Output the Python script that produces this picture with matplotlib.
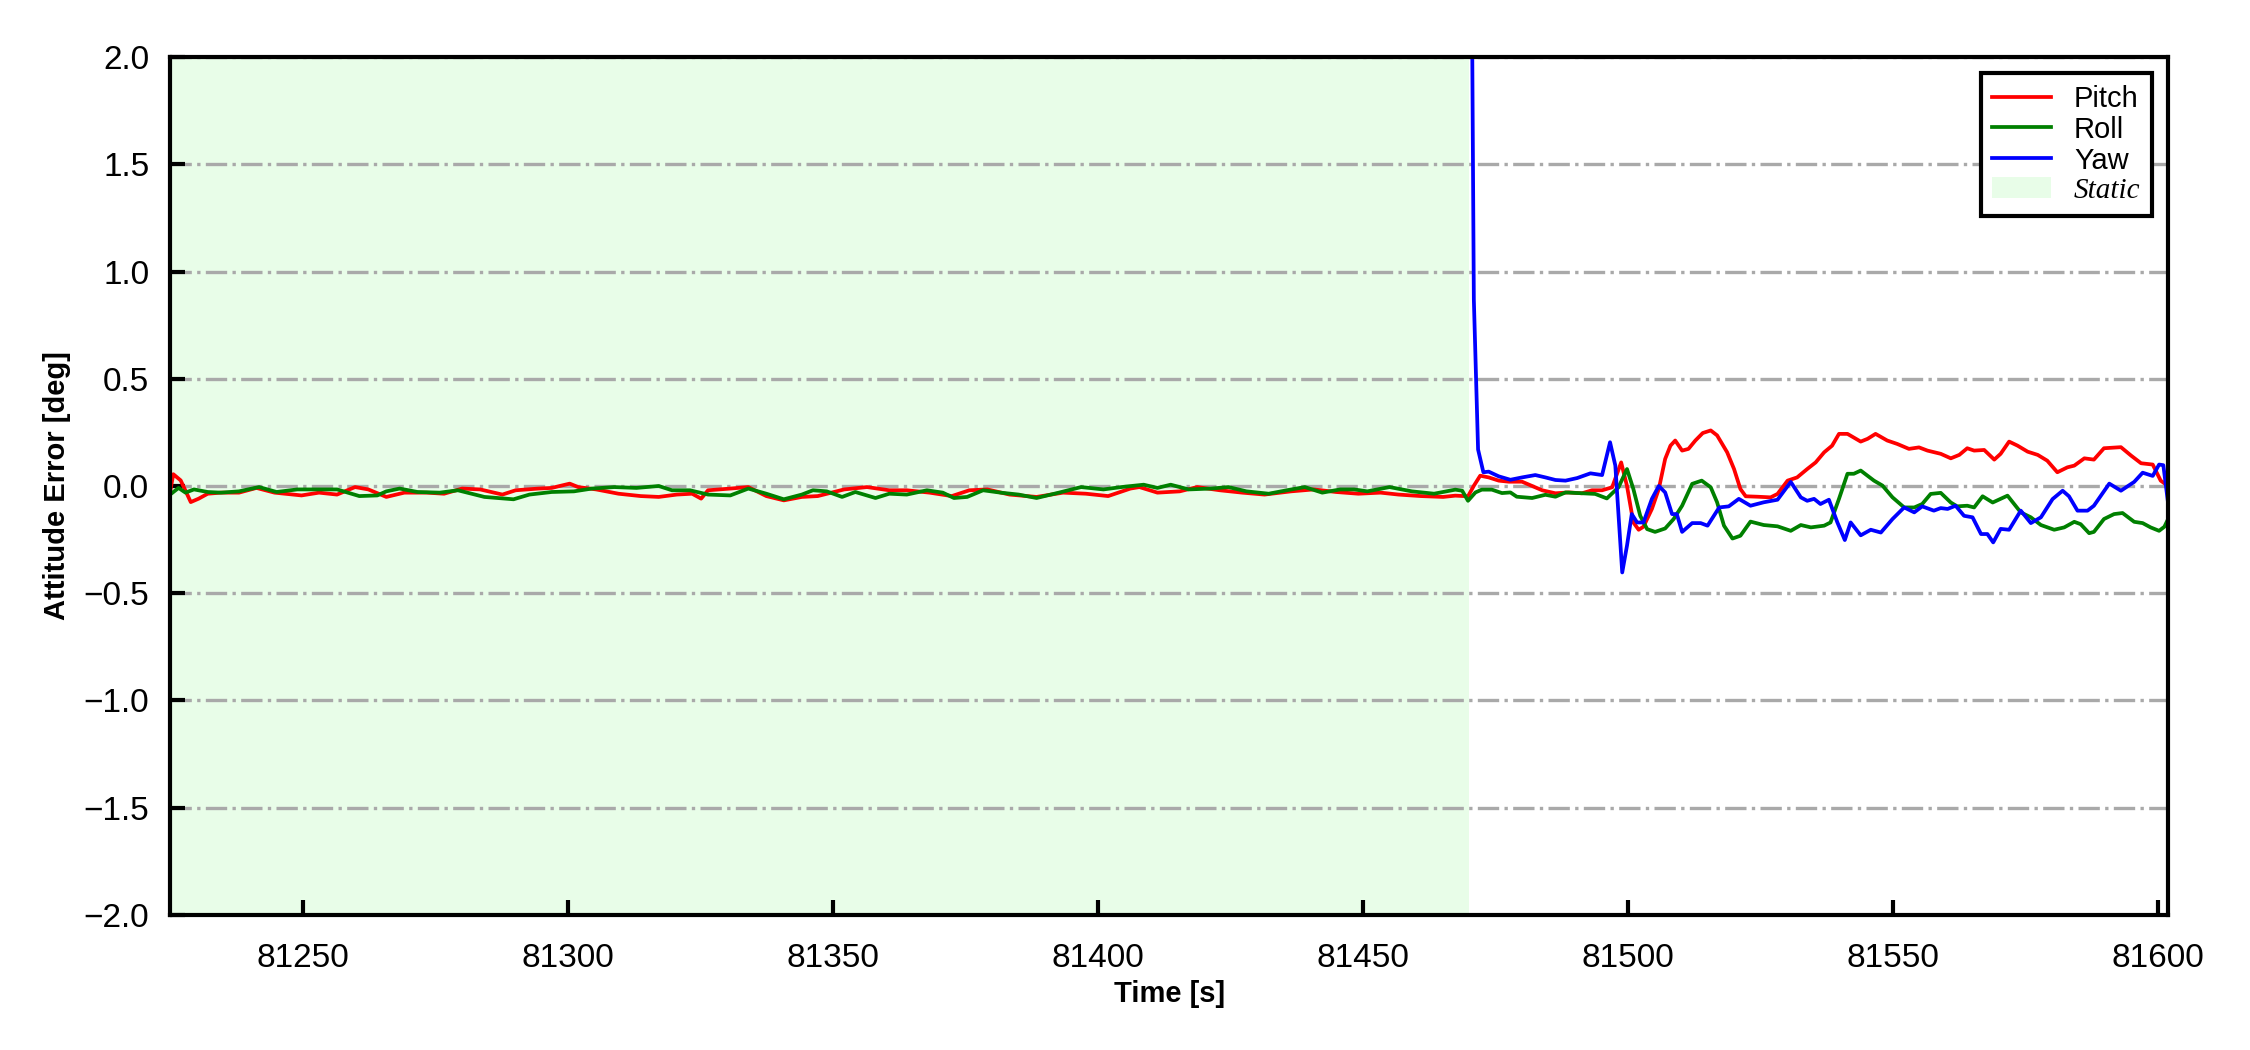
import numpy as np
import matplotlib
matplotlib.use("Agg")
import matplotlib.pyplot as plt
from matplotlib.patches import Patch

plt.rcParams['font.family'] = ['Liberation Sans', 'DejaVu Sans']

# time stamps [s] and attitude errors [deg]
pitch_t = [81225.0, 81225.6, 81227.0, 81228.9, 81230.4, 81232.1, 81234.6, 81238.0, 81241.3, 81244.7,
           81249.8, 81253.1, 81256.5, 81259.9, 81262.4, 81265.8, 81269.2, 81273.4, 81276.7, 81280.1,
           81283.5, 81287.7, 81290.2, 81294.5, 81297.0, 81300.4, 81302.0, 81305.4, 81309.6, 81313.8,
           81317.2, 81320.6, 81323.5, 81325.2, 81326.5, 81330.7, 81334.1, 81337.5, 81340.8, 81344.2,
           81347.2, 81352.2, 81356.5, 81360.7, 81364.0, 81368.3, 81372.5, 81375.8, 81379.2, 81383.4,
           81388.5, 81393.5, 81397.8, 81402.0, 81406.2, 81407.9, 81411.3, 81415.5, 81418.8, 81423.1,
           81427.3, 81431.5, 81436.5, 81440.8, 81445.0, 81449.2, 81453.4, 81456.8, 81461.0, 81465.2,
           81467.5, 81469.9, 81471.0, 81472.2, 81473.8, 81475.7, 81477.6, 81480.1, 81482.0, 81483.9,
           81486.4, 81488.9, 81491.4, 81493.3, 81495.2, 81497.1, 81498.8, 81499.9, 81501.1, 81502.1,
           81503.0, 81504.6, 81505.9, 81507.1, 81508.1, 81509.0, 81510.3, 81511.5, 81512.8, 81514.2,
           81515.7, 81516.9, 81518.8, 81520.1, 81521.3, 81522.3, 81524.5, 81527.0, 81528.3, 81530.2,
           81532.0, 81533.9, 81535.5, 81537.1, 81538.6, 81539.9, 81541.5, 81544.0, 81545.3, 81546.8,
           81549.0, 81550.9, 81553.1, 81555.0, 81556.6, 81559.1, 81561.0, 81562.6, 81564.1, 81565.4,
           81567.3, 81569.2, 81570.4, 81572.0, 81573.6, 81575.5, 81577.4, 81579.2, 81581.1, 81583.0,
           81584.3, 81586.2, 81588.0, 81589.9, 81593.1, 81595.0, 81596.9, 81599.1, 81600.6, 81601.9]
pitch = [-0.028, 0.055, 0.026, -0.075, -0.059, -0.036, -0.031, -0.031, -0.009, -0.031,
         -0.044, -0.031, -0.040, -0.005, -0.016, -0.051, -0.031, -0.031, -0.036, -0.012,
         -0.016, -0.040, -0.020, -0.012, -0.009, 0.011, -0.005, -0.016, -0.036, -0.047,
         -0.051, -0.040, -0.036, -0.059, -0.020, -0.012, -0.005, -0.047, -0.067, -0.051,
         -0.047, -0.016, -0.005, -0.020, -0.020, -0.031, -0.047, -0.020, -0.016, -0.040,
         -0.051, -0.031, -0.036, -0.047, -0.012, -0.005, -0.031, -0.025, -0.005, -0.020,
         -0.031, -0.040, -0.025, -0.016, -0.028, -0.036, -0.031, -0.040, -0.047, -0.051,
         -0.045, -0.048, 0.001, 0.048, 0.040, 0.025, 0.020, 0.020, 0.000, -0.020,
         -0.034, -0.030, -0.034, -0.020, -0.020, -0.006, 0.110, 0.000, -0.170, -0.204,
         -0.190, -0.107, -0.014, 0.126, 0.188, 0.212, 0.165, 0.173, 0.212, 0.247,
         0.259, 0.236, 0.157, 0.079, -0.014, -0.048, -0.050, -0.053, -0.037, 0.025,
         0.040, 0.079, 0.110, 0.157, 0.188, 0.243, 0.243, 0.207, 0.220, 0.243,
         0.212, 0.196, 0.173, 0.180, 0.165, 0.150, 0.129, 0.145, 0.176, 0.165,
         0.168, 0.123, 0.150, 0.207, 0.188, 0.160, 0.145, 0.118, 0.064, 0.087,
         0.095, 0.129, 0.123, 0.176, 0.181, 0.142, 0.106, 0.100, 0.025, 0.002]

roll_t = [81225.0, 81226.6, 81227.9, 81229.5, 81232.1, 81234.6, 81238.0, 81241.8, 81245.1, 81249.0,
          81253.1, 81256.5, 81260.7, 81264.1, 81265.8, 81268.3, 81271.7, 81275.9, 81279.3, 81284.3,
          81289.8, 81292.8, 81297.0, 81301.2, 81304.6, 81308.8, 81313.0, 81317.2, 81319.7, 81323.1,
          81326.5, 81330.7, 81334.1, 81337.5, 81340.8, 81344.2, 81346.3, 81348.9, 81351.8, 81354.3,
          81358.1, 81360.7, 81364.0, 81367.8, 81370.8, 81372.9, 81375.4, 81378.4, 81381.7, 81385.1,
          81388.5, 81392.7, 81396.9, 81401.1, 81404.5, 81408.7, 81411.3, 81413.8, 81417.2, 81421.4,
          81424.7, 81428.1, 81432.3, 81435.7, 81439.1, 81442.4, 81445.8, 81448.4, 81450.9, 81455.1,
          81459.3, 81463.5, 81467.5, 81468.8, 81469.9, 81471.3, 81472.5, 81474.4, 81476.3, 81477.9,
          81479.1, 81482.0, 81484.5, 81486.4, 81488.3, 81491.4, 81493.9, 81496.1, 81498.3, 81499.9,
          81501.1, 81502.4, 81503.7, 81505.2, 81507.1, 81508.7, 81510.3, 81512.2, 81514.0, 81515.7,
          81516.9, 81518.2, 81519.8, 81521.3, 81523.2, 81525.7, 81528.3, 81530.8, 81532.7, 81534.6,
          81537.1, 81538.3, 81539.9, 81541.5, 81542.7, 81544.0, 81546.5, 81548.1, 81550.0, 81552.2,
          81554.1, 81555.6, 81557.2, 81559.1, 81561.0, 81562.2, 81564.1, 81565.4, 81567.0, 81568.9,
          81571.7, 81574.2, 81576.1, 81578.0, 81580.5, 81582.4, 81584.3, 81585.5, 81587.1, 81588.0,
          81589.9, 81591.8, 81593.4, 81595.6, 81597.2, 81598.7, 81600.3, 81601.3, 81602.0]
roll = [-0.040, -0.009, -0.031, -0.016, -0.028, -0.031, -0.025, -0.005, -0.028, -0.016,
        -0.016, -0.016, -0.047, -0.044, -0.025, -0.012, -0.028, -0.031, -0.020, -0.051,
        -0.062, -0.040, -0.028, -0.025, -0.012, -0.005, -0.009, 0.000, -0.020, -0.020,
        -0.040, -0.044, -0.012, -0.036, -0.062, -0.040, -0.020, -0.025, -0.051, -0.028,
        -0.056, -0.036, -0.040, -0.020, -0.031, -0.056, -0.051, -0.020, -0.031, -0.040,
        -0.056, -0.031, -0.005, -0.016, -0.005, 0.006, -0.009, 0.006, -0.016, -0.012,
        -0.005, -0.025, -0.036, -0.020, -0.005, -0.031, -0.016, -0.016, -0.025, -0.005,
        -0.025, -0.036, -0.017, -0.022, -0.069, -0.030, -0.017, -0.017, -0.033, -0.030,
        -0.050, -0.056, -0.041, -0.050, -0.030, -0.034, -0.037, -0.058, -0.006, 0.079,
        -0.014, -0.139, -0.201, -0.214, -0.198, -0.154, -0.092, 0.010, 0.025, -0.006,
        -0.076, -0.185, -0.245, -0.232, -0.166, -0.182, -0.188, -0.209, -0.182, -0.193,
        -0.185, -0.170, -0.060, 0.057, 0.057, 0.072, 0.025, 0.002, -0.053, -0.100,
        -0.100, -0.084, -0.037, -0.032, -0.077, -0.095, -0.092, -0.100, -0.048, -0.077,
        -0.045, -0.123, -0.146, -0.182, -0.204, -0.193, -0.167, -0.178, -0.220, -0.214,
        -0.154, -0.131, -0.126, -0.167, -0.173, -0.193, -0.209, -0.190, -0.154]

yaw_t = [81470.4, 81471.0, 81471.8, 81472.8, 81473.8, 81475.7, 81477.9, 81480.1, 81482.6, 81484.5,
         81486.4, 81488.3, 81490.5, 81493.0, 81495.2, 81496.7, 81497.7, 81499.0, 81499.9, 81500.8,
         81501.8, 81503.0, 81504.6, 81505.9, 81507.1, 81508.4, 81509.3, 81510.3, 81512.2, 81513.8,
         81515.1, 81517.3, 81519.1, 81521.0, 81523.2, 81525.7, 81528.3, 81530.8, 81532.7, 81533.9,
         81535.2, 81536.4, 81538.0, 81539.6, 81541.0, 81542.1, 81544.0, 81545.9, 81547.8, 81550.0,
         81552.2, 81554.1, 81555.6, 81557.8, 81559.1, 81560.4, 81561.9, 81563.5, 81565.1, 81566.7,
         81567.9, 81569.0, 81570.4, 81572.0, 81574.2, 81576.1, 81578.0, 81580.2, 81582.1, 81583.3,
         81584.9, 81586.8, 81588.0, 81590.9, 81593.1, 81595.6, 81597.2, 81599.1, 81600.3, 81601.1,
         81602.0]
yaw = [3.2, 0.87, 0.17, 0.064, 0.067, 0.045, 0.029, 0.040, 0.051, 0.040,
       0.028, 0.025, 0.037, 0.059, 0.051, 0.204, 0.095, -0.403, -0.278, -0.131,
       -0.170, -0.170, -0.060, 0.000, -0.030, -0.131, -0.131, -0.214, -0.173, -0.173,
       -0.185, -0.100, -0.095, -0.060, -0.092, -0.076, -0.064, 0.019, -0.053, -0.069,
       -0.060, -0.084, -0.064, -0.170, -0.252, -0.170, -0.230, -0.204, -0.217, -0.154,
       -0.100, -0.123, -0.095, -0.115, -0.103, -0.107, -0.092, -0.139, -0.146, -0.224,
       -0.224, -0.263, -0.200, -0.204, -0.115, -0.173, -0.146, -0.061, -0.022, -0.048,
       -0.115, -0.115, -0.092, 0.011, -0.022, 0.019, 0.062, 0.047, 0.100, 0.097,
       -0.081]

static_start = 81225.0
static_end = 81470.0
x_ticks = [81250, 81300, 81350, 81400, 81450, 81500, 81550, 81600]
y_ticks = np.arange(-2.0, 2.01, 0.5)


def main():
    fig = plt.figure(figsize=(7.5, 3.5), dpi=300)
    ax = fig.add_subplot(111)
    fig.subplots_adjust(left=0.0756, right=0.9636, top=0.9457, bottom=0.1286)

    static_color = '#e8fde8'
    ax.axvspan(static_start, static_end, color=static_color, lw=0, zorder=0)

    ax.plot(pitch_t, pitch, color='red', lw=0.9, label='Pitch')
    ax.plot(roll_t, roll, color='green', lw=0.9, label='Roll')
    ax.plot(yaw_t, yaw, color='blue', lw=0.9, label='Yaw')

    ax.set_xlim(81225, 81602)
    ax.set_ylim(-2.0, 2.0)
    ax.set_xticks(x_ticks)
    ax.set_yticks(y_ticks)
    ax.yaxis.grid(True, linestyle='-.', color='darkgray', linewidth=0.8)

    ax.tick_params(direction='in', length=3.5, width=1.0, labelsize=8)
    ax.tick_params(axis='x', pad=6.7)
    ax.tick_params(axis='y', pad=5)
    for sp in ax.spines.values():
        sp.set_linewidth(1.0)

    ax.set_xlabel('Time [s]', fontsize=7, fontweight='bold', labelpad=1.5)
    ax.set_ylabel('Attitude Error [deg]', fontsize=7, fontweight='bold', labelpad=3)

    handles, labels = ax.get_legend_handles_labels()
    handles.append(Patch(facecolor=static_color, edgecolor='none'))
    labels.append('Static')
    leg = ax.legend(handles, labels, loc='upper right', fontsize=7, fancybox=False,
                    edgecolor='black', framealpha=1, handlelength=2.0, handletextpad=0.8,
                    labelspacing=0.1, borderpad=0.4, borderaxespad=0.55)
    leg.get_frame().set_linewidth(1.0)
    st = leg.get_texts()[3]
    st.set_fontfamily('Liberation Serif')
    st.set_fontstyle('italic')

    fig.savefig('out.png', dpi=300)


if __name__ == "__main__":
    main()
